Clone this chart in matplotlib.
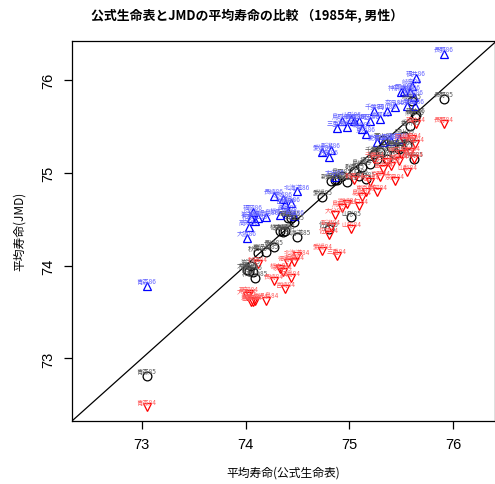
import matplotlib
matplotlib.use("Agg")
import matplotlib.pyplot as plt

plt.rcParams['font.family'] = ['Noto Sans CJK JP', 'DejaVu Sans']

# 都道府県 (1985年, 男性) — 公式生命表とJMD (84/85/86) の平均寿命
prefs = ["青森", "大阪", "高知", "岩手", "福岡", "和歌山", "秋田", "鹿児島", "長崎",
         "栃木", "茨城", "宮崎", "徳島", "福島", "兵庫", "北海道",
         "愛媛", "佐賀", "新潟", "大分", "三重", "鳥取", "宮城", "山形", "群馬",
         "山口", "島根", "東京", "埼玉", "千葉", "愛知", "京都", "富山", "石川",
         "広島", "奈良", "滋賀", "神奈川", "岡山", "山梨", "香川", "岐阜", "静岡",
         "熊本", "福井", "長野"]
official = [73.05, 74.01, 74.03, 74.05, 74.07, 74.09, 74.12, 74.20, 74.27,
            74.33, 74.36, 74.38, 74.41, 74.44, 74.47, 74.50,
            74.74, 74.80, 74.82, 74.86, 74.88, 74.93, 74.98, 75.02, 75.05,
            75.09, 75.12, 75.16, 75.20, 75.24, 75.27, 75.30, 75.33, 75.36,
            75.40, 75.44, 75.48, 75.50, 75.53, 75.56, 75.59, 75.60, 75.62,
            75.63, 75.64, 75.91]
jmd86 = [73.78, 74.30, 74.42, 74.51, 74.58, 74.48, 74.51, 74.52, 74.75,
         74.55, 74.72, 74.66, 74.58, 74.67, 74.53, 74.80,
         75.22, 75.17, 75.25, 74.96, 75.48, 75.56, 75.49, 75.58, 75.56,
         75.56, 75.47, 75.42, 75.56, 75.67, 75.33, 75.58, 75.33, 75.67,
         75.34, 75.71, 75.36, 75.87, 75.88, 75.72, 75.87, 75.94, 75.82,
         75.72, 76.02, 76.28]
jmd85 = [72.81, 73.95, 73.94, 74.00, 73.93, 73.87, 74.14, 74.15, 74.20,
         74.37, 74.36, 74.37, 74.51, 74.51, 74.47, 74.31,
         74.74, 74.40, 74.91, 74.92, 74.92, 74.97, 74.90, 74.52, 75.02,
         74.97, 75.06, 74.93, 75.10, 75.20, 75.15, 75.22, 75.35, 75.15,
         75.28, 75.20, 75.26, 75.28, 75.40, 75.30, 75.50, 75.77, 75.15,
         75.60, 75.62, 75.80]
jmd84 = [72.48, 73.67, 73.70, 73.61, 73.61, 73.62, 74.02, 73.62, 73.84,
         73.96, 73.93, 73.75, 74.03, 73.87, 74.04, 74.10,
         74.16, 74.33, 74.42, 74.55, 74.10, 74.62, 74.66, 74.40, 74.92,
         74.64, 74.74, 74.79, 74.90, 75.15, 74.79, 74.95, 75.04, 75.12,
         75.07, 74.91, 75.13, 75.20, 75.34, 75.01, 75.22, 75.36, 75.15,
         75.31, 75.53, 75.53]

series = [
    (jmd85, "o", "black", "#555555", "85"),
    (jmd86, "^", "blue", "#6060ff", "86"),
    (jmd84, "v", "red", "#ff5a5a", "84"),
]


def main():
    fig = plt.figure(figsize=(4.95, 4.85), dpi=100)
    ax = fig.add_axes([0.146, 0.1305, 0.853, 0.783])

    for values, marker, color, label_color, suffix in series:
        ax.plot(official, values, linestyle="none", marker=marker, markersize=6.3,
                markerfacecolor="none", markeredgecolor=color, markeredgewidth=0.9)
        for name, x, y in zip(prefs, official, values):
            ax.annotate(name + suffix, (x, y), xytext=(0, 3.5), textcoords="offset points",
                        ha="center", va="center", fontsize=4.6, color=label_color)

    lo, hi = 72.33, 76.41
    ax.plot([lo, hi], [lo, hi], color="black", linewidth=0.9)
    ax.set_xlim(lo, 76.40)
    ax.set_ylim(lo, 76.42)

    ax.set_xticks([73, 74, 75, 76])
    ax.set_yticks([73, 74, 75, 76])
    ax.tick_params(direction="out", length=6, width=0.9, pad=6)
    for lbl in ax.get_xticklabels() + ax.get_yticklabels():
        lbl.set_fontfamily("Liberation Sans")
        lbl.set_fontsize(10.5)
    for lbl in ax.get_yticklabels():
        lbl.set_rotation(90)
        lbl.set_va("center")
    for spine in ax.spines.values():
        spine.set_linewidth(0.9)

    ax.set_xlabel("平均寿命(公式生命表)", fontsize=8.5, labelpad=10)
    ax.set_ylabel("平均寿命(JMD)", fontsize=8.5, labelpad=11)
    fig.text(0.5, 0.968, "公式生命表とJMDの平均寿命の比較 （1985年, 男性）",
             ha="center", va="center", fontsize=9.3, fontweight="bold")

    fig.savefig("out.png", dpi=100)
    plt.close(fig)


if __name__ == "__main__":
    main()
